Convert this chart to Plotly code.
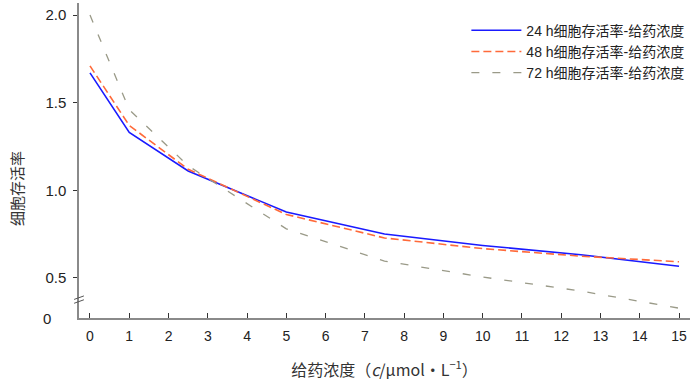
import plotly.graph_objects as go

conc = [0, 1, 2.5, 5, 7.5, 10, 12.5, 15]
rate_24h = [1.67, 1.33, 1.11, 0.876, 0.75, 0.685, 0.632, 0.566]
rate_48h = [1.71, 1.37, 1.12, 0.862, 0.728, 0.667, 0.624, 0.592]
rate_72h = [2.00, 1.46, 1.14, 0.78, 0.596, 0.505, 0.425, 0.327]
names = ["24 h细胞存活率-给药浓度", "48 h细胞存活率-给药浓度", "72 h细胞存活率-给药浓度"]
x_ticks = list(range(0, 16))
y_ticks = [0.5, 1.0, 1.5, 2.0]
y_ticktext = ["0.5", "1.0", "1.5", "2.0"]
y_break_value = 0.271

fig = go.Figure()
fig.add_trace(go.Scatter(x=conc, y=rate_24h, name=names[0], mode="lines",
                         line=dict(color="#1a1aff", width=1.6)))
fig.add_trace(go.Scatter(x=conc, y=rate_48h, name=names[1], mode="lines",
                         line=dict(color="#ff6a3a", width=1.6, dash="8px,4px")))
fig.add_trace(go.Scatter(x=conc, y=rate_72h, name=names[2], mode="lines",
                         line=dict(color="#9a9a88", width=1.3, dash="8px,13px")))

axis_col = "#8a8a8a"
fig.update_layout(
    width=700, height=392,
    margin=dict(l=79, r=10, t=3, b=74),
    plot_bgcolor="white", paper_bgcolor="white",
    font=dict(family="Liberation Sans, Arial, sans-serif", color="#222", size=14),
    showlegend=True,
    legend=dict(x=0.634, y=0.963, xanchor="left", yanchor="top",
                font=dict(family="Liberation Sans, Noto Sans CJK SC, sans-serif", size=14, color="#222"),
                bgcolor="rgba(0,0,0,0)", itemwidth=50, tracegroupgap=0),
    xaxis=dict(range=[-0.28, 15.28], tickvals=x_ticks, ticks="inside", ticklen=5,
               tickcolor="#333", showline=True, linecolor=axis_col, linewidth=1.5,
               showgrid=False, zeroline=False, ticklabelstandoff=4, automargin=False,
               tickfont=dict(size=14),
               title=dict(text="给药浓度（<i>c</i>/μmol·L<sup>−1</sup>）",
                          font=dict(family="Noto Sans CJK SC, sans-serif", size=16, color="#333"),
                          standoff=22)),
    yaxis=dict(range=[y_break_value, 2.069], tickvals=y_ticks, ticktext=y_ticktext,
               ticks="outside", ticklen=4, tickcolor="#333", showline=True,
               linecolor=axis_col, linewidth=1.5, showgrid=False, zeroline=False,
               ticklabelstandoff=4, tickfont=dict(size=15), automargin=False),
)

# y axis title
fig.add_annotation(x=-0.1015, y=0.413, xref="paper", yref="paper", text="细胞存活率",
                   textangle=-90, showarrow=False, xanchor="center", yanchor="middle",
                   font=dict(family="Noto Sans CJK SC, sans-serif", size=15, color="#333"))

# "0" label at the broken axis origin
fig.add_annotation(x=-0.052, y=y_break_value, xref="paper", yref="y", text="0",
                   showarrow=False, xanchor="center", yanchor="middle",
                   font=dict(size=15, color="#222"))

# axis break marks
for dy in (0, 0.022):
    fig.add_shape(type="line", xref="paper", yref="y",
                  x0=-0.008, x1=0.008, y0=0.355 + dy, y1=0.375 + dy,
                  line=dict(color="#555", width=1))

fig.write_html("out.html", config={"displayModeBar": False},
               post_script="document.body.style.margin='0';")
